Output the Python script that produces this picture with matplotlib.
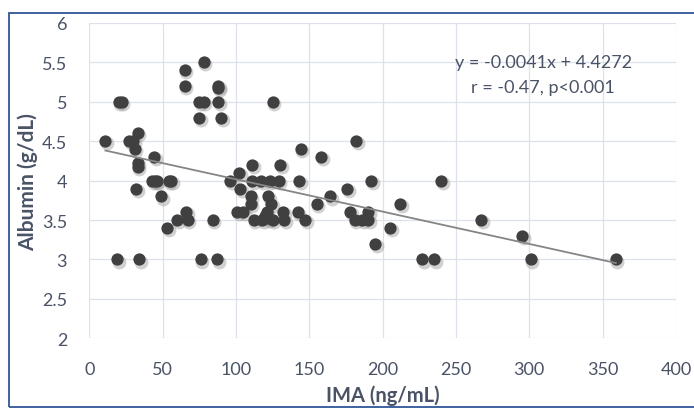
import numpy as np
import matplotlib.pyplot as plt
import matplotlib.transforms as mtransforms
from matplotlib.patches import Rectangle

plt.rcParams['font.family'] = ['Lato', 'DejaVu Sans']

# IMA (ng/mL) vs albumin (g/dL)
ima = [11, 20, 22, 27, 30, 31, 33, 33, 33, 44, 32,
       43, 45, 46, 54, 56, 49,
       65, 78, 65, 88, 88, 75, 78, 88, 75, 90, 125,
       19, 34, 76, 87,
       53, 60, 66, 67, 84,
       96, 102, 103, 111, 130, 144, 158,
       111, 117, 123, 129, 143,
       110, 122, 110, 124, 101, 105, 121, 132, 142,
       112, 118, 120, 122, 125, 133, 147,
       155, 164, 176, 182, 192, 240, 212, 178, 181, 186, 190, 190,
       205, 195, 267, 295, 227, 235, 301, 359]
albumin = [4.5, 5.0, 5.0, 4.5, 4.5, 4.4, 4.6, 4.22, 4.17, 4.3, 3.9,
           4.0, 4.0, 4.0, 4.0, 4.0, 3.8,
           5.4, 5.5, 5.2, 5.2, 5.17, 5.0, 5.0, 5.0, 4.8, 4.8, 5.0,
           3.0, 3.0, 3.0, 3.0,
           3.4, 3.5, 3.6, 3.5, 3.5,
           4.0, 4.1, 3.9, 4.2, 4.2, 4.4, 4.3,
           4.0, 4.0, 4.0, 4.0, 4.0,
           3.8, 3.8, 3.7, 3.7, 3.6, 3.6, 3.6, 3.6, 3.6,
           3.5, 3.5, 3.55, 3.52, 3.5, 3.5, 3.5,
           3.7, 3.8, 3.9, 4.5, 4.0, 4.0, 3.7, 3.6, 3.5, 3.5, 3.5, 3.6,
           3.4, 3.2, 3.5, 3.3, 3.0, 3.0, 3.0, 3.0]

slope = -0.0041
intercept = 4.4272
eq_text = "y = -0.0041x + 4.4272"
r_text = "r = -0.47, p<0.001"

txt = '#4A5366'
fig = plt.figure(figsize=(6.94, 4.10), dpi=100)
ax = fig.add_axes([0.1287, 0.1724, 0.974 - 0.1287, 0.9415 - 0.1724])

# soft shadow under the markers
shadow = mtransforms.offset_copy(ax.transData, fig=fig, x=1.2, y=-1.5, units='points')
ax.scatter(ima, albumin, s=100, color='#9a9a9a', alpha=0.45, linewidths=0,
           transform=shadow, zorder=2)
ax.scatter(ima, albumin, s=78, color='#404040', linewidths=0, zorder=3)

xs = np.array([min(ima), max(ima)])
ax.plot(xs, slope * xs + intercept, color='#858585', lw=1.3, zorder=4)

ax.set_xlim(0, 400)
ax.set_ylim(2, 6)
ax.set_xticks(np.arange(0, 401, 50))
ax.set_yticks(np.arange(2, 6.01, 0.5))
ax.set_yticklabels(['2', '2.5', '3', '3.5', '4', '4.5', '5', '5.5', '6'])
ax.grid(color='#DCE1EA', lw=0.9)
ax.set_axisbelow(True)
for s in ax.spines.values():
    s.set_visible(False)
ax.tick_params(length=0, labelsize=13, labelcolor=txt, pad=16)
ax.tick_params(axis='y', pad=16)

ax.set_xlabel('IMA (ng/mL)', fontsize=14.5, fontweight='bold', color=txt, labelpad=6)
ax.set_ylabel('Albumin (g/dL)', fontsize=15, fontweight='bold', color=txt, labelpad=3)

ax.text(310, 5.5, eq_text, fontsize=13, color=txt, ha='center', va='center')
ax.text(309, 5.19, r_text, fontsize=13, color=txt, ha='center', va='center')

fig.patches.append(Rectangle((9 / 694, 2 / 410), 1.0, 394 / 410, transform=fig.transFigure,
                             fill=False, edgecolor='#2F5597', lw=1.3))

fig.savefig('out.png', dpi=100)
